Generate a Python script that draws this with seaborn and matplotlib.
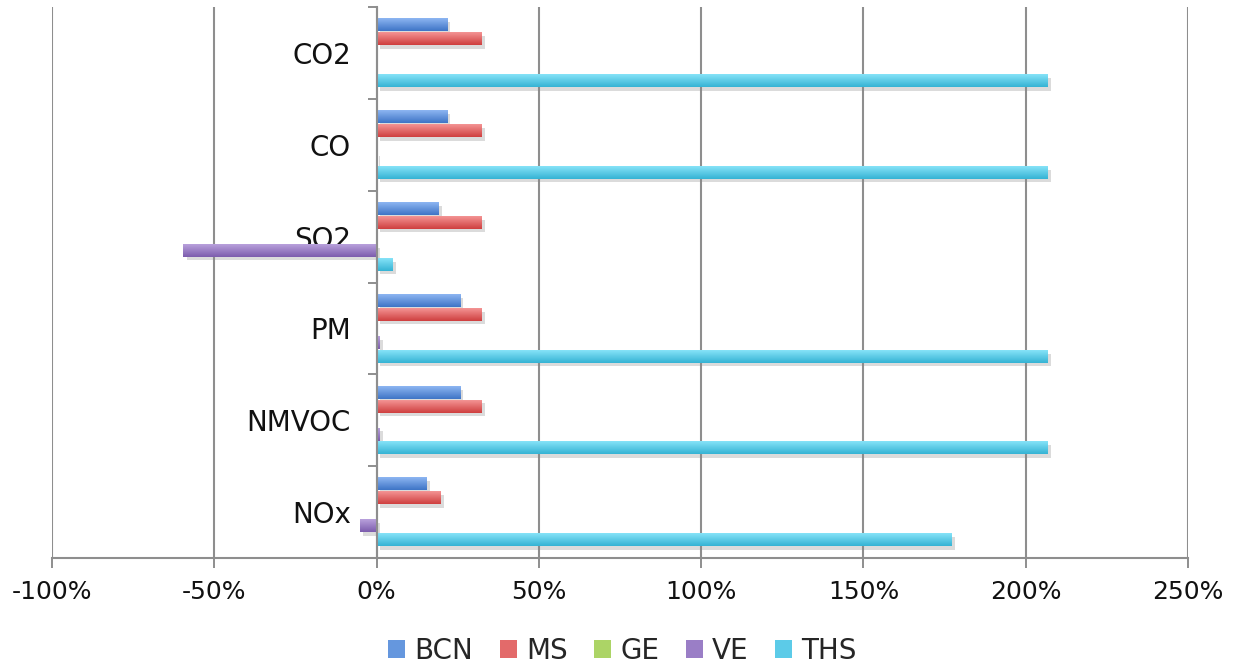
import numpy as np
import pandas as pd
import seaborn as sns
import matplotlib
matplotlib.use("Agg")
import matplotlib.pyplot as plt
from matplotlib.patches import Patch
from matplotlib import patheffects as pe
from matplotlib.colors import LinearSegmentedColormap, to_rgb

# Change in emissions per pollutant (%) for each scenario
pollutants = ["CO2", "CO", "SO2", "PM", "NMVOC", "NOx"]
scenarios = ["BCN", "MS", "GE", "VE", "THS"]
bcn = [21.6, 21.6, 19.0, 25.6, 25.6, 15.4]
ms = [32.2, 32.2, 32.2, 32.2, 32.2, 19.7]
ge = [0.0, 0.0, 0.0, 0.0, 0.0, 0.0]
ve = [0.0, -0.2, -59.6, 0.9, 0.9, -5.2]
ths = [206.7, 206.7, 4.8, 206.7, 206.7, 177.1]
x_ticks = [-100, -50, 0, 50, 100, 150, 200, 250]

# (light, dark) gradient end colours per scenario
light = ["#8db6f2", "#f49494", "#c4e887", "#b9a1dc", "#86e3f8"]
dark = ["#3e74c6", "#cf3f3f", "#92bb45", "#7c5cad", "#35b3d4"]
mid = ["#6597de", "#e36a6a", "#acd466", "#9a7ec6", "#5ccbe8"]
grid_col = "#8e8e8e"

series = [bcn, ms, ge, ve, ths]
df = pd.DataFrame({
    "pollutant": np.tile(pollutants, len(scenarios)),
    "scenario": np.repeat(scenarios, len(pollutants)),
    "value": np.concatenate(series),
})

sns.set_theme(style="white")
plt.rcParams["font.family"] = ["DejaVu Sans"]

fig = plt.figure(figsize=(12.45, 6.67), dpi=100)
ax = fig.add_axes([0.0418, 0.1634, 0.9124, 0.8261])

sns.barplot(data=df, x="value", y="pollutant", hue="scenario",
            order=pollutants, hue_order=scenarios, palette=mid,
            orient="h", width=0.76, gap=0.1, errorbar=None,
            legend=False, ax=ax)

# vertical gradient fill (light on top) and soft drop shadow on every bar
mid_rgb = [np.array(to_rgb(c)) for c in mid]
grad = np.linspace(0, 1, 64).reshape(-1, 1)
for bar in list(ax.patches):
    fc = np.array(bar.get_facecolor()[:3])
    k = int(np.argmin([np.sum((fc - m) ** 2) for m in mid_rgb]))
    x0, x1 = sorted([bar.get_x(), bar.get_x() + bar.get_width()])
    y0, y1 = sorted([bar.get_y(), bar.get_y() + bar.get_height()])
    bar.set_path_effects([pe.SimplePatchShadow(offset=(2.5, -2.5), shadow_rgbFace="#888888", alpha=0.3),
                          pe.Normal()])
    bar.set_edgecolor("none")
    if x1 - x0 <= 0:
        continue
    cmap = LinearSegmentedColormap.from_list(f"g{k}", [light[k], dark[k]])
    # y axis is inverted: y0 is the visual top of the bar
    ax.imshow(grad, cmap=cmap, extent=[x0, x1, y1, y0], origin="upper",
              aspect="auto", zorder=bar.get_zorder() + 0.1, interpolation="bilinear")

ax.set_xlim(-100, 250)
ax.set_ylim(5.5, -0.5)
ax.set_xlabel("")
ax.set_ylabel("")

ax.set_xticks(x_ticks)
ax.set_xticklabels([f"{v}%" for v in x_ticks])
ax.tick_params(axis="x", bottom=True, direction="out", length=7, width=1.4,
               color=grid_col, pad=8.5, labelsize=18, labelcolor="#111111")

ax.set_yticks(range(len(pollutants)))
ax.set_yticklabels(pollutants)
ax.set_yticks(np.arange(-0.5, len(pollutants), 1), minor=True)
ax.tick_params(axis="y", which="major", left=True, length=0, pad=18.5,
               labelsize=20, labelcolor="#111111")
ax.tick_params(axis="y", which="minor", left=True, direction="out",
               length=6.5, width=1.4, color=grid_col)

ax.grid(axis="x", color=grid_col, linewidth=1.5)
ax.grid(axis="y", visible=False)
ax.set_axisbelow(True)

for side in ("top", "right"):
    ax.spines[side].set_visible(False)
ax.spines["left"].set_position(("data", 0))
for side in ("left", "bottom"):
    ax.spines[side].set_color(grid_col)
    ax.spines[side].set_linewidth(1.5)

handles = [Patch(facecolor=c, edgecolor="none") for c in mid]
fig.legend(handles, scenarios, loc="center", bbox_to_anchor=(0.5, 0.024),
           ncol=5, frameon=False, fontsize=20, handlelength=0.62,
           handleheight=0.62, handletextpad=0.33, columnspacing=0.95)

fig.savefig("out.png", dpi=100)
